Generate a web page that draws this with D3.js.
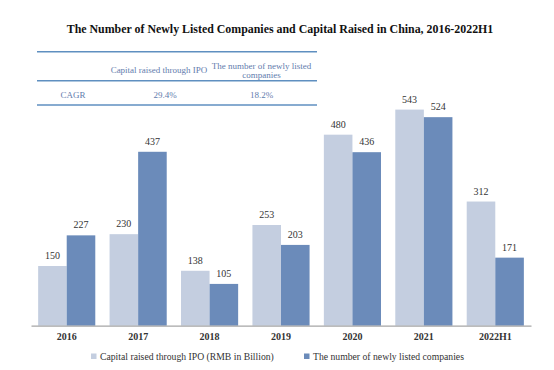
<!DOCTYPE html>
<html>
<head>
<meta charset="utf-8">
<script src="https://cdn.jsdelivr.net/npm/d3@7"></script>
<style>
  body { margin: 0; background: #fff; }
  svg text { font-family: "Liberation Serif", "DejaVu Serif", serif; }
</style>
</head>
<body>
<div id="chart"></div>
<script>
// chart data
const years = ["2016", "2017", "2018", "2019", "2020", "2021", "2022H1"];
const capitalRaised = [150, 230, 138, 253, 480, 543, 312];
const newListings = [227, 437, 105, 203, 436, 524, 171];
const seriesNames = ["Capital raised through IPO (RMB in Billion)", "The number of newly listed companies"];
const tableHeader = ["", "Capital raised through IPO", "The number of newly listed\ncompanies"];
const tableRow = ["CAGR", "29.4%", "18.2%"];

const W = 554, H = 370;
const colors = ["#c4cee0", "#6b8bba"];
const tableBlue = "#5f8fc0";
const tableText = "#5f7cad";

const svg = d3.select("#chart").append("svg")
    .attr("width", W)
    .attr("height", H);

// title
svg.append("text")
    .attr("x", 280)
    .attr("y", 33)
    .attr("text-anchor", "middle")
    .style("font-size", "11.9px")
    .style("font-weight", "bold")
    .attr("fill", "#111")
    .text("The Number of Newly Listed Companies and Capital Raised in China, 2016-2022H1");

// CAGR table
const table = svg.append("g");
[51.7, 80.7, 105].forEach(y => {
  table.append("line")
      .attr("x1", 37).attr("x2", 317)
      .attr("y1", y).attr("y2", y)
      .style("stroke", tableBlue)
      .style("stroke-width", 1.4);
});
const headX = [73, 159, 261.5];
const rowX = [73, 165, 261.5];
tableHeader.forEach((t, i) => {
  const lines = t.split("\n");
  lines.forEach((ln, j) => {
    table.append("text")
        .attr("x", headX[i])
        .attr("y", lines.length > 1 ? 68.8 + j * 8.7 : 72.5)
        .attr("text-anchor", "middle")
        .style("font-size", "9px")
        .attr("fill", tableText)
        .text(ln);
  });
});
tableRow.forEach((t, i) => {
  table.append("text")
      .attr("x", rowX[i])
      .attr("y", 98.2)
      .attr("text-anchor", "middle")
      .style("font-size", "9px")
      .attr("fill", tableText)
      .text(t);
});

// scales
const x0 = d3.scaleBand()
    .domain(years)
    .range([31, 531])
    .paddingInner(0.2)
    .paddingOuter(0.1);

const x1 = d3.scaleBand()
    .domain([0, 1])
    .range([0, x0.bandwidth()]);

const y = d3.scaleLinear()
    .domain([0, 543])
    .range([325.7, 109.6]);

const data = years.map((yr, i) => ({ year: yr, values: [capitalRaised[i], newListings[i]] }));

const groups = svg.selectAll(".group")
    .data(data)
    .enter().append("g")
    .attr("class", "group")
    .attr("transform", d => `translate(${x0(d.year)},0)`);

groups.selectAll("rect")
    .data(d => d.values)
    .enter().append("rect")
    .attr("x", (d, i) => x1(i))
    .attr("y", d => y(d))
    .attr("width", x1.bandwidth())
    .attr("height", d => y(0) - y(d))
    .style("fill", (d, i) => colors[i]);

groups.selectAll(".val")
    .data(d => d.values)
    .enter().append("text")
    .attr("class", "val")
    .attr("x", (d, i) => x1(i) + x1.bandwidth() / 2)
    .attr("y", d => y(d) - 7)
    .attr("text-anchor", "middle")
    .style("font-size", "10px")
    .attr("fill", "#333")
    .text(d => d);

// x axis
const xAxis = svg.append("g")
    .attr("transform", `translate(0,${y(0)})`)
    .call(d3.axisBottom(x0).tickSize(0).tickPadding(7));
xAxis.select(".domain").style("stroke", "#a6a6a6").style("stroke-width", 1.2);
xAxis.selectAll("text")
    .style("font-family", "Liberation Serif, serif")
    .style("font-size", "10px")
    .style("font-weight", "bold")
    .attr("fill", "#333");

// legend
const legendX = [91, 304];
const legend = svg.selectAll(".legend")
    .data(seriesNames)
    .enter().append("g")
    .attr("class", "legend")
    .attr("transform", (d, i) => `translate(${legendX[i]},356)`);
legend.append("rect")
    .attr("x", 0).attr("y", -2.5)
    .attr("width", 5.5).attr("height", 5.5)
    .style("fill", (d, i) => colors[i]);
legend.append("text")
    .attr("x", (d, i) => i === 0 ? 9 : 9)
    .attr("y", 3.8)
    .style("font-size", "9.7px")
    .attr("fill", "#333")
    .text(d => d);
</script>
</body>
</html>
